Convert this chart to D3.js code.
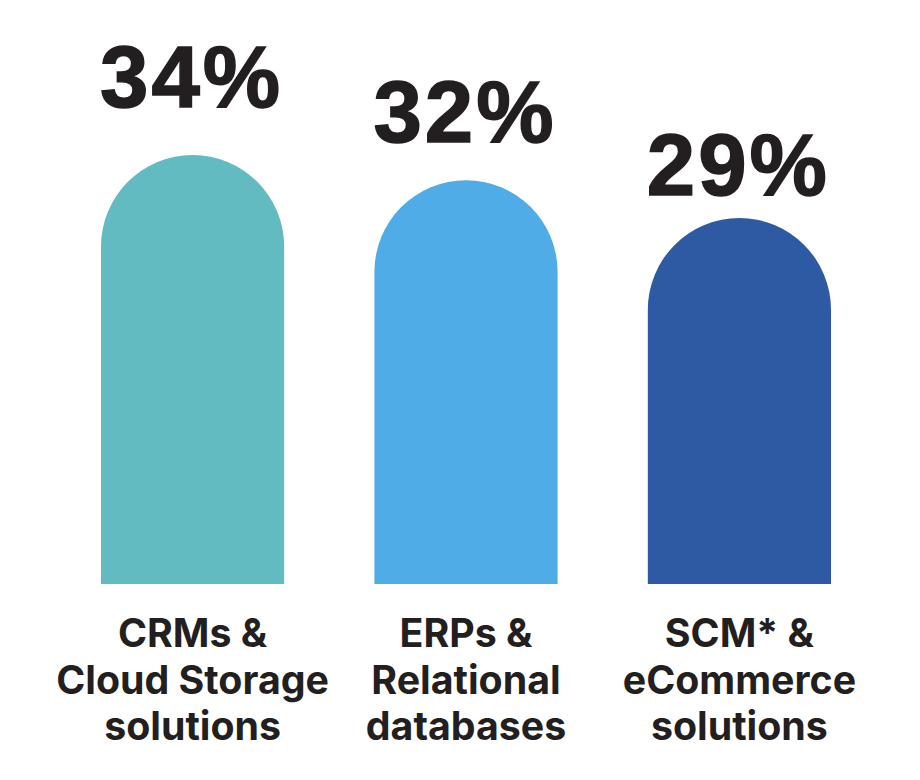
<!DOCTYPE html>
<html lang="en">
	<head>
		<meta charset="utf-8">
		<title>Bar chart</title>
		<script src="https://d3js.org/d3.v7.min.js"></script>
		<style>
			body { margin: 0; background: #fff; }
		</style>
	</head>
	<body>
		<script>

	// data
	var categories = ["CRMs & Cloud Storage solutions", "ERPs & Relational databases", "SCM* & eCommerce solutions"];
	var labelLines = [
		["CRMs &", "Cloud Storage", "solutions"],
		["ERPs &", "Relational", "databases"],
		["SCM* &", "eCommerce", "solutions"]
	];
	var values = [34, 32, 29];
	var colors = ["#62bbc1", "#4facE6", "#2e5aa3"];

	var w = 920
	var h = 780
	var svg = d3.select("body")
		.append("svg")
			.attr("width", w)
			.attr("height", h);

	var xScale = d3.scaleBand()
		.domain(d3.range(values.length))
		.range([101, 831])
		.paddingInner(0.33)
		.paddingOuter(0);

	var yScale = d3.scaleLinear()
		.domain([0, 34])
		.range([584, 155]);

	// value labels sit a little higher above the taller bars
	var labelScale = d3.scaleLinear()
		.domain([29, 34])
		.range([195, 107]);

	function barPath(d, i) {
		var x0 = xScale(i),
			bw = xScale.bandwidth(),
			r = bw / 2,
			y0 = yScale(d),
			y1 = yScale(0);
		return "M" + x0 + "," + y1 +
			"V" + (y0 + r) +
			"A" + r + "," + r + " 0 0 1 " + (x0 + bw) + "," + (y0 + r) +
			"V" + y1 + "Z";
	}

	svg.selectAll("path.bar")
		.data(values)
		.enter()
		.append("path")
		.attr("class", "bar")
		.attr("d", barPath)
		.attr("fill", (d, i) => colors[i]);

	svg.selectAll("text.value")
		.data(values)
		.enter()
		.append("text")
		.attr("class", "value")
		.attr("x", (d, i) => xScale(i) + xScale.bandwidth() / 2 - 1)
		.attr("y", d => labelScale(d))
		.attr("text-anchor", "middle")
		.attr("font-family", "Liberation Sans, Arial, sans-serif")
		.attr("font-weight", "bold")
		.attr("font-size", 87)
		.attr("letter-spacing", 3)
		.attr("fill", "#231f20")
		.attr("stroke", "#231f20")
		.attr("stroke-width", 1.5)
		.text(d => d + "%");

	var cats = svg.selectAll("text.cat")
		.data(labelLines)
		.enter()
		.append("text")
		.attr("class", "cat")
		.attr("text-anchor", "middle")
		.attr("font-family", "Inter, Roboto, sans-serif")
		.attr("font-weight", "bold")
		.attr("font-size", 39.3)
		.attr("fill", "#231f20");

	cats.selectAll("tspan")
		.data((d, i) => d.map(t => ({ t: t, i: i })))
		.enter()
		.append("tspan")
		.attr("x", d => xScale(d.i) + xScale.bandwidth() / 2)
		.attr("y", (d, j) => 647 + j * 46.5)
		.text(d => d.t);

		</script>
	</body>
</html>
